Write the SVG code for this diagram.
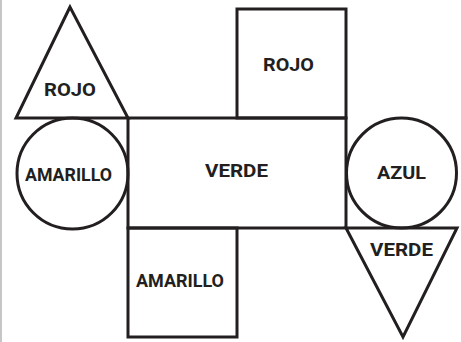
<svg xmlns="http://www.w3.org/2000/svg" width="461" height="342" viewBox="0 0 461 342">
<style>
.s{fill:none;stroke:#231f20;stroke-width:3;stroke-linejoin:miter}
.t{font-family:Roboto,"Liberation Sans",sans-serif;font-weight:bold;font-size:19px;fill:#231f20;text-anchor:middle}
</style>
<rect x="0" y="0" width="461" height="342" fill="#fff"/>
<line x1="1" y1="0" x2="1" y2="342" stroke="#b3b3b3" stroke-width="1.5"/>
<g id="connectors"></g>
<g id="tri-rojo"><polygon class="s" points="70,7 16,118 128,118"/><text class="t" x="70" y="96" textLength="52" lengthAdjust="spacingAndGlyphs">ROJO</text></g>
<g id="sq-rojo"><rect class="s" x="237" y="9" width="109" height="109"/><text class="t" x="288.5" y="71" textLength="51" lengthAdjust="spacingAndGlyphs">ROJO</text></g>
<g id="circ-amarillo"><circle class="s" cx="72.5" cy="173.5" r="55.5"/><text class="t" x="68.5" y="181" textLength="87" lengthAdjust="spacingAndGlyphs">AMARILLO</text></g>
<g id="rect-verde"><rect class="s" x="128" y="118" width="218" height="110"/><text class="t" x="236.5" y="177" textLength="63" lengthAdjust="spacingAndGlyphs">VERDE</text></g>
<g id="circ-azul"><circle class="s" cx="401.5" cy="173" r="55"/><text class="t" x="401.5" y="179" textLength="49" lengthAdjust="spacingAndGlyphs">AZUL</text></g>
<g id="sq-amarillo"><rect class="s" x="128" y="228" width="109" height="109"/><text class="t" x="180" y="287" textLength="88" lengthAdjust="spacingAndGlyphs">AMARILLO</text></g>
<g id="tri-verde"><polygon class="s" points="346,228 457,228 403,337"/><text class="t" x="401.5" y="256" textLength="63" lengthAdjust="spacingAndGlyphs">VERDE</text></g>
</svg>
